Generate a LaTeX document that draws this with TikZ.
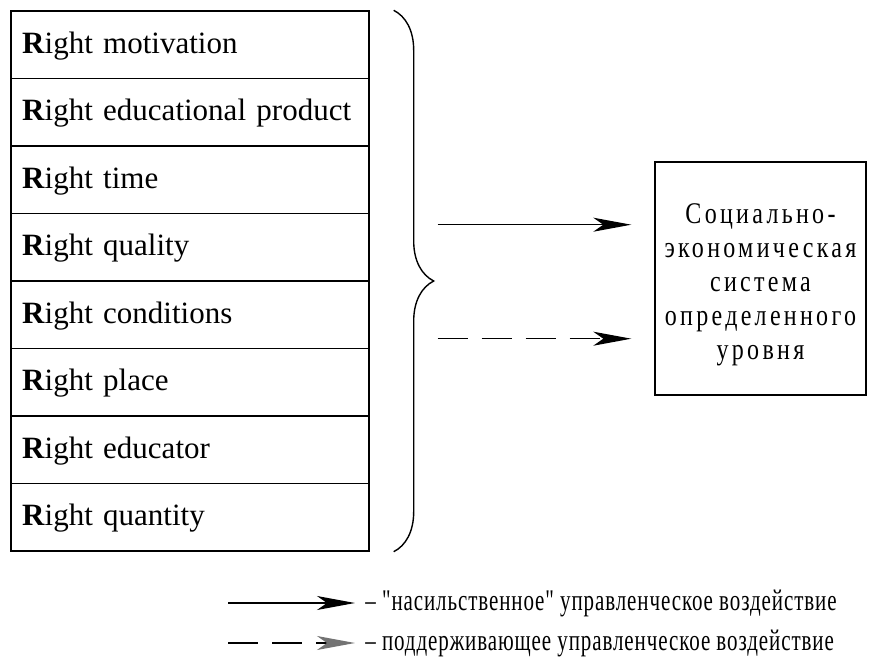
\documentclass[tikz,border=0pt]{standalone}
\usepackage{fontspec}
\setmainfont{Liberation Serif}
\newfontfamily\sysfont{Liberation Serif}[FakeStretch=0.8,LetterSpace=11]
\newfontfamily\legfont{Liberation Serif}[FakeStretch=0.7,LetterSpace=3]
\usepackage{tikz}
\usetikzlibrary{arrows.meta,positioning,calc,decorations.pathreplacing}

\begin{document}
\begin{tikzpicture}[x=0.5pt,y=-0.5pt,>={Stealth[length=19pt,width=7pt,inset=5pt]},
  row/.style={draw,line width=0.7pt,minimum width=179pt,minimum height=33.75pt,
    text width=168pt,align=left,inner xsep=5.5pt,
    text height=0.9em,text depth=0.06em,font=\fontsize{15.5}{19}\selectfont},
  sysbox/.style={draw,line width=0.7pt,align=center,minimum width=105.5pt,
    minimum height=116.5pt,font=\sysfont\fontsize{15}{17}\selectfont},
  hard/.style={->,line width=0.65pt},
  soft/.style={->,line width=0.65pt,dash pattern=on 15pt off 7pt},
  legtext/.style={anchor=west,inner sep=0pt,font=\legfont\fontsize{15}{18}\selectfont}]
\useasboundingbox (0,0) rectangle (880,659);
% ---- the eight "Right ..." rows ----
\foreach \i/\txt in {1/motivation,2/educational product,3/time,4/quality,
    5/conditions,6/place,7/educator,8/quantity}
  \node[row] (r\i) at (190,{11+67.5*(\i-0.5)}) {\mbox{\textbf{R}ight \txt}};
\draw[line width=0.7pt,decorate,decoration={brace,amplitude=20pt}]
  ($(r1.north east)+(24,0)$) -- ($(r8.south east)+(24,0)$);
\coordinate (tip) at ($(r4.south east)+(64,0)$);
\node[sysbox] (sys) at (760.5,278.5)
  {\rule{0pt}{16pt}Социально-\\экономическая\\система\\определенного\\уровня};
\coordinate (a1) at ($(tip)+(4,-57)$);
\coordinate (a2) at ($(tip)+(4,57)$);
\draw[hard,shorten >=11.5pt] (a1) -- (a1 -| sys.west);
\draw[soft,shorten >=11.5pt] (a2) -- (a2 -| sys.west);
% ---- legend ----
\node[legtext] (leg1) at (365,603) {– "насильственное" управленческое воздействие};
\node[legtext] (leg2) at (365,643) {– поддерживающее управленческое воздействие};
\coordinate (l1) at (228,603);
\coordinate (l2) at (228,643);
\draw[hard,shorten >=5pt] (l1) -- (leg1.west);
\draw[line width=0.65pt,dash pattern=on 15pt off 7pt,
  -{Stealth[length=19pt,width=7pt,inset=5pt,black!55]},shorten >=5pt] (l2) -- (leg2.west);
\end{tikzpicture}
\end{document}
